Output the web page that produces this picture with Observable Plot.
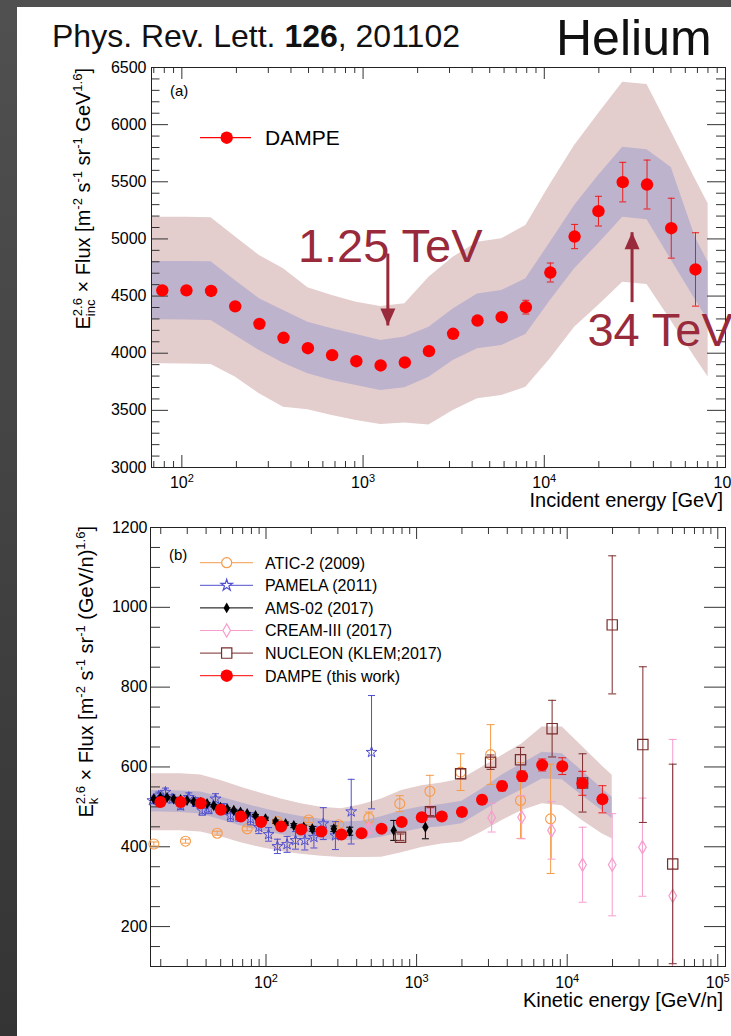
<!DOCTYPE html>
<html><head><meta charset="utf-8">
<script src="https://cdn.jsdelivr.net/npm/d3@7"></script>
<script src="https://cdn.jsdelivr.net/npm/@observablehq/plot@0.6"></script>
<style>
html,body{margin:0;padding:0;}
body{width:731px;height:1036px;overflow:hidden;background:linear-gradient(to bottom,#505050,#343434);}
#page{position:relative;width:731px;height:1036px;}
#card{position:absolute;left:17px;top:7px;right:0;bottom:0;background:#fff;}
.abs{position:absolute;left:0;}
</style></head>
<body><div id="page"><div id="card"></div></div>
<script>
// ---------- DATA (panel a: incident energy) ----------
const topEnergy = [78,106,145,197,268,364,496,675,918,1250,1700,2310,3140,4280,5820,7910,10800,14700,19900,27100,36900,50200,68300];
const topFlux   = [4550,4550,4545,4410,4257,4135,4044,3983,3930,3893,3919,4018,4170,4286,4315,4403,4706,5021,5243,5497,5476,5094,4733];
const topErr    = [12,12,13,14,15,16,17,18,19,20,22,24,27,30,38,60,83,106,130,173,214,262,321];
const topBandEnergy = [68,78,106,145,197,268,364,496,675,918,1250,1700,2310,3140,4280,5820,7910,10800,14700,19900,27100,36900,50200,68300,80200];
const topPinkUp = [5190,5190,5190,5185,5020,4855,4739,4572,4505,4447,4409,4432,4665,4840,4972,5001,5118,5479,5818,6095,6372,6351,5937,5520,5308];
const topBlueUp = [4803,4803,4803,4800,4636,4476,4374,4272,4214,4164,4111,4141,4228,4387,4518,4549,4651,4972,5292,5555,5803,5780,5626,5010,4797];
const topBlueLo = [4292,4292,4290,4286,4155,4024,3913,3820,3761,3718,3674,3697,3790,3936,4039,4068,4164,4461,4739,4957,5190,5168,4816,4466,4286];
const topPinkLo = [3907,3907,3905,3901,3791,3645,3528,3505,3455,3411,3376,3390,3372,3499,3601,3630,3703,3951,4228,4418,4622,4601,4281,3955,3791];
const annotText = ["1.25 TeV","34 TeV"];
const annotTextE = [437,17290];
const annotTextV = [4794,4059];
const arrowE = [1370,30500];
const arrowFrom = [4872,4447];
const arrowTo = [4243,5059];
const arrowRot = [180,0];
const topYTicks = [3000,3500,4000,4500,5000,5500,6000,6500];
const xDecades = [100,1000,10000,100000];

// ---------- DATA (panel b: kinetic energy per nucleon) ----------
const botEnergy = [19.9,27.1,36.9,50.1,68.2,92.7,126,171,233,317,431,585,796,1082,1470,2000,2718,3693,5020,6822,9272,12600,17130];
const botFlux   = [512,512,509,493,476,462,451,443,438,431,434,445,462,474,476,487,518,552,577,605,602,559,519];
const botErr    = [3,3,3,3,3,3,3,3,4,4,5,6,7,8,9,10,11,12,13,15,21,30,34];
const botBandEnergy = [17.1,19.9,27.1,36.9,50.1,68.2,92.7,126,171,233,317,431,585,796,1082,1470,2000,2718,3693,5020,6822,9272,12600,17130,19900];
const botPinkUp = [583,583,583,580,566,549,534,520,508,499,495,505,520,541,553,560,570,599,629,658,700,700,651,602,579];
const botBlueUp = [541,541,540,537,525,510,497,485,476,469,462,464,475,490,500,506,514,545,580,608,637,633,590,545,524];
const botBlueLo = [487,487,486,482,468,452,440,430,422,418,416,417,424,436,446,450,458,488,518,543,570,568,528,490,470];
const botPinkLo = [440,440,440,437,425,410,398,388,381,376,373,373,374,385,398,407,412,437,466,491,508,503,466,432,420];

const aticE   = [18.0,29.2,47.4,75.0,119,192,304,482,773,1225,1960,3100,4900,7760];
const aticF   = [407,414,434,445,463,467,455,472,508,539,587,631,516,470];
const aticErr = [5,5,5,5,5,6,8,15,20,40,46,75,95,137];

const pamE   = [17.6,19.4,21.5,23.8,27.1,30.7,34.0,37.7,41.7,46.2,52.5,58.1,66.0,78.9,89.6,104,119,138,157,181,208,240,289,368,502];
const pamF   = [516,528,537,520,503,524,512,491,495,520,495,478,478,470,449,431,401,406,416,416,424,458,428,488,637];
const pamErr = [8,9,10,10,10,11,11,12,12,13,13,14,14,15,16,17,18,20,22,24,27,40,35,81,142];

const amsE   = [18.0,19.9,22.0,24.4,27.1,29.9,33.1,36.7,40.6,45.0,49.8,55.2,61.1,67.7,75.0,85.2,99.2,116,135,153,178,203,282,360,705,1144];
const amsF   = [520,524,523,520,518,516,513,511,508,503,499,495,491,487,483,478,470,463,458,453,449,445,445,439,441,449];
const amsErr = [3,3,3,3,3,3,3,3,3,3,3,3,3,3,3,3,4,4,4,5,5,6,7,10,25,29];

const creamE   = [482,1236,3150,4980,7870,12650,19900,31600,50200];
const creamF   = [445,487,473,474,441,355,355,399,277];
const creamErr = [12,15,36,54,72,94,128,123,392];

const nucE   = [782,1236,1960,3100,4900,7940,12650,19900,31800,50200];
const nucF   = [424,488,583,612,618,696,560,956,656,357];
const nucErr = [8,10,12,18,31,71,73,173,195,250];

const legendNames = ["ATIC-2 (2009)","PAMELA (2011)","AMS-02 (2017)","CREAM-III (2017)","NUCLEON (KLEM;2017)","DAMPE (this work)"];
const botYTicks = [200,400,600,800,1000,1200];

// ---------- STYLE ----------
const FONT = "'Liberation Sans', Arial, Helvetica, sans-serif";
const PINK = "#e4cdcd", BLUE = "#bdb3cd", RED = "#ff0000", RED_ERR = "#ee1c1c";
const ORANGE = "#f59b4a", PURPLE = "#4f4fcf", BLACK = "#000000", CPINK = "#f79ccd", BROWN = "#7a2b2b";
const ANN = "#992a3b", TICK = "#333";

const sup = {2:"\u00b2",3:"\u00b3",4:"\u2074",5:"\u2075"};
const fmtPow = d => "10" + sup[Math.round(Math.log10(d))];

const capSym = {draw(ctx, size){ const w = Math.sqrt(size/Math.PI); ctx.moveTo(-w,0); ctx.lineTo(w,0); }};
const headSym = {draw(ctx){ ctx.moveTo(0,0); ctx.lineTo(-7.5,17); ctx.lineTo(7.5,17); ctx.closePath(); }};

const rows = (E, V, Er) => E.map((e,i)=>({e, v: V[i], err: Er[i]}));
const bandRows = (E, pu, bu, bl, pl) => E.map((e,i)=>({e, pu: pu[i], bu: bu[i], bl: bl[i], pl: pl[i]}));

function errMarks(data, color, cap){
  return [
    Plot.ruleX(data, {x:"e", y1:d=>d.v-d.err, y2:d=>d.v+d.err, stroke:color, strokeWidth:1, clip:true}),
    Plot.dot(data, {x:"e", y:d=>d.v+d.err, symbol:capSym, r:cap, stroke:color, fill:"none", strokeWidth:1, clip:true}),
    Plot.dot(data, {x:"e", y:d=>d.v-d.err, symbol:capSym, r:cap, stroke:color, fill:"none", strokeWidth:1, clip:true})
  ];
}
function minorLog(lo, hi){
  const out = [];
  for (let k = 0; k <= 5; k++) for (let m = 2; m <= 9; m++){ const v = m*Math.pow(10,k); if (v >= lo && v <= hi) out.push(v); }
  return out;
}
function tickMarks(xMaj, xMin, yMaj, yMin, FW, FH, L){
  return [
    Plot.tickX(xMaj, {x:d=>d, insetTop:FH-L.xM, stroke:TICK}),
    Plot.tickX(xMin, {x:d=>d, insetTop:FH-L.xm, stroke:TICK}),
    Plot.tickX(xMaj, {x:d=>d, insetBottom:FH-L.xM, stroke:TICK}),
    Plot.tickX(xMin, {x:d=>d, insetBottom:FH-L.xm, stroke:TICK}),
    Plot.tickY(yMaj, {y:d=>d, insetRight:FW-L.yM, stroke:TICK}),
    Plot.tickY(yMin, {y:d=>d, insetRight:FW-L.ym, stroke:TICK}),
    Plot.tickY(yMaj, {y:d=>d, insetLeft:FW-L.yRM, stroke:TICK}),
    Plot.tickY(yMin, {y:d=>d, insetLeft:FW-L.yRm, stroke:TICK})
  ];
}
// turn "10²" tick labels into 10 + raised tspan
function fixPowLabels(svg){
  const rev = {"\u00b2":"2","\u00b3":"3","\u2074":"4","\u2075":"5"};
  d3.select(svg).selectAll("text").filter(function(){ return /^10[\u00b2\u00b3\u2074\u2075]$/.test(this.textContent); })
    .each(function(){
      const p = rev[this.textContent[2]];
      const t = d3.select(this);
      t.text("10");
      t.append("tspan").attr("font-size", 11).attr("dy", -6).text(p);
    });
}

// ---------- PANEL (a) ----------
const topPts = rows(topEnergy, topFlux, topErr);
const topBand = bandRows(topBandEnergy, topPinkUp, topBlueUp, topBlueLo, topPinkLo);
const arrows = arrowE.map((e,i)=>({e, from: arrowFrom[i], to: arrowTo[i], rot: arrowRot[i]}));
const annots = annotText.map((t,i)=>({t, e: annotTextE[i], v: annotTextV[i]}));
const topYMinor = d3.range(3000, 6501, 100).filter(v => v % 500 !== 0);

const topSvg = Plot.plot({
  width: 731, height: 515, marginLeft: 151, marginRight: 6, marginTop: 67, marginBottom: 48,
  style: {background: "transparent", fontFamily: FONT, fontSize: "16px", color: "#000"},
  x: {type: "log", domain: [68, 1e5], ticks: xDecades, tickFormat: fmtPow, tickSize: 0, tickPadding: 9, label: null},
  y: {domain: [3000, 6500], ticks: topYTicks, tickFormat: d => String(d), tickSize: 0, tickPadding: 5, label: null},
  marks: [
    Plot.areaY(topBand, {x:"e", y1:"pl", y2:"pu", fill: PINK}),
    Plot.areaY(topBand, {x:"e", y1:"bl", y2:"bu", fill: BLUE}),
    ...tickMarks(xDecades, minorLog(68, 1e5), topYTicks, topYMinor, 574, 400, {xM:12, xm:6, yM:17, ym:8.5, yRM:18, yRm:9}),
    Plot.frame({stroke: "#222"}),
    ...errMarks(topPts, RED_ERR, 3.5),
    Plot.dot(topPts, {x:"e", y:"v", r:6.2, fill: RED}),
    Plot.link(arrows, {x1:"e", x2:"e", y1:"from", y2:"to", stroke: ANN, strokeWidth: 3}),
    Plot.dot(arrows, {x:"e", y:"to", symbol: headSym, r: 1, fill: ANN, stroke: "none", rotate: "rot"}),
    Plot.text(annots, {x:"e", y:"v", text:"t", textAnchor:"start", lineAnchor:"bottom", fontSize: 47, fill: ANN})
  ]
});
topSvg.classList.add("abs");
topSvg.style.top = "0px";
document.getElementById("page").appendChild(topSvg);
fixPowLabels(topSvg);

// ---------- PANEL (b) ----------
const botPts = rows(botEnergy, botFlux, botErr);
const botBand = bandRows(botBandEnergy, botPinkUp, botBlueUp, botBlueLo, botPinkLo);
const atic = rows(aticE, aticF, aticErr);
const pam = rows(pamE, pamF, pamErr);
const ams = rows(amsE, amsF, amsErr);
const cream = rows(creamE, creamF, creamErr);
const nuc = rows(nucE, nucF, nucErr);
const botYMinor = d3.range(100, 1201, 50).filter(v => v % 200 !== 0);

const botSvg = Plot.plot({
  width: 731, height: 521, marginLeft: 150, marginRight: 6, marginTop: 12, marginBottom: 70,
  style: {background: "transparent", fontFamily: FONT, fontSize: "16px", color: "#000"},
  x: {type: "log", domain: [17.1, 112500], ticks: xDecades, tickFormat: fmtPow, tickSize: 0, tickPadding: 10, label: null},
  y: {domain: [100, 1200], ticks: botYTicks, tickFormat: d => String(d), tickSize: 0, tickPadding: 3, label: null},
  marks: [
    Plot.areaY(botBand, {x:"e", y1:"pl", y2:"pu", fill: PINK}),
    Plot.areaY(botBand, {x:"e", y1:"bl", y2:"bu", fill: BLUE}),
    ...tickMarks(xDecades, minorLog(17.1, 112500), botYTicks, botYMinor, 575, 439, {xM:12, xm:7, yM:20, ym:10, yRM:21, yRm:11}),
    Plot.frame({stroke: "#222"}),
    ...errMarks(atic, ORANGE, 4),
    Plot.dot(atic, {x:"e", y:"v", r:5, stroke: ORANGE, fill:"none", strokeWidth:1.1}),
    ...errMarks(pam, PURPLE, 3.5),
    Plot.dot(pam, {x:"e", y:"v", r:3.4, symbol:"star", stroke: PURPLE, fill:"none", strokeWidth:1}),
    ...errMarks(ams, BLACK, 3.5),
    Plot.dot(ams, {x:"e", y:"v", r:3.4, symbol:"diamond", fill: BLACK, stroke:"none"}),
    ...errMarks(cream, CPINK, 4),
    Plot.dot(cream, {x:"e", y:"v", r:4, symbol:"diamond", stroke: CPINK, fill:"none", strokeWidth:1.2}),
    ...errMarks(nuc, BROWN, 4),
    Plot.dot(nuc, {x:"e", y:"v", r:5.8, symbol:"square", stroke: BROWN, fill:"none", strokeWidth:1.2}),
    ...errMarks(botPts, RED_ERR, 4),
    Plot.dot(botPts, {x:"e", y:"v", r:6, fill: RED})
  ]
});
botSvg.classList.add("abs");
botSvg.style.top = "515px";
document.getElementById("page").appendChild(botSvg);
fixPowLabels(botSvg);

// ---------- decorations: titles, legends, axis titles ----------
function yTitle(svg, x, y, subText, subW, tailUnit){
  const t = d3.select(svg).append("text")
    .attr("transform", `translate(${x},${y}) rotate(-90)`)
    .attr("text-anchor", "end").attr("font-size", 20).attr("font-family", FONT)
    .style("white-space", "pre").attr("fill", "#000");
  t.append("tspan").text("E");
  t.append("tspan").attr("font-size", 13).attr("dy", -8).text("2.6");
  t.append("tspan").attr("font-size", 13).attr("dx", -18.1).attr("dy", 13).text(subText);
  t.append("tspan").attr("dx", 18.1 - subW).attr("dy", -5).text(" \u00d7 Flux [m");
  t.append("tspan").attr("font-size", 13).attr("dy", -8).text("-2");
  t.append("tspan").attr("dy", 8).text(" s");
  t.append("tspan").attr("font-size", 13).attr("dy", -8).text("-1");
  t.append("tspan").attr("dy", 8).text(" sr");
  t.append("tspan").attr("font-size", 13).attr("dy", -8).text("-1");
  t.append("tspan").attr("dy", 8).text(tailUnit);
  t.append("tspan").attr("font-size", 13).attr("dy", -8).text("1.6");
  t.append("tspan").attr("dy", 8).text("]");
}
yTitle(topSvg, 90, 68, "inc", 16.6, " GeV");
yTitle(botSvg, 93, 11, "k", 6.5, " (GeV/n)");

const gT = d3.select(topSvg).append("g").attr("font-family", FONT).attr("fill", "#000").attr("text-anchor", "start");
gT.append("text").attr("x", 723).attr("y", 507).attr("text-anchor", "end").attr("font-size", 20).text("Incident energy [GeV]");
gT.append("text").attr("x", 170).attr("y", 96).attr("font-size", 15).text("(a)");
gT.append("line").attr("x1", 200).attr("x2", 251).attr("y1", 137.7).attr("y2", 137.7).attr("stroke", RED).attr("stroke-width", 1.2);
gT.append("circle").attr("cx", 226.7).attr("cy", 137.7).attr("r", 6.2).attr("fill", RED);
gT.append("text").attr("x", 265).attr("y", 145).attr("font-size", 21).text("DAMPE");

const gB = d3.select(botSvg).append("g").attr("font-family", FONT).attr("fill", "#000").attr("text-anchor", "start");
gB.append("text").attr("x", 723).attr("y", 492).attr("text-anchor", "end").attr("font-size", 20).text("Kinetic energy [GeV/n]");
gB.append("text").attr("x", 169).attr("y", 45).attr("font-size", 15).text("(b)");
const legStyle = [
  {c: ORANGE, s: d3.symbolCircle, r: 5, fill: false},
  {c: PURPLE, s: d3.symbolStar, r: 3.6, fill: false},
  {c: BLACK, s: d3.symbolDiamond, r: 3.3, fill: true},
  {c: CPINK, s: d3.symbolDiamond, r: 4, fill: false},
  {c: BROWN, s: d3.symbolSquare, r: 5.8, fill: false},
  {c: RED, s: d3.symbolCircle, r: 6.2, fill: true}
];
legendNames.forEach((name, i) => {
  const cy = 47.7 + i*22.6, st = legStyle[i];
  gB.append("line").attr("x1", 200).attr("x2", 253).attr("y1", cy).attr("y2", cy).attr("stroke", st.c).attr("stroke-width", 1);
  gB.append("path").attr("transform", `translate(226.7,${cy})`)
    .attr("d", d3.symbol().type(st.s).size(Math.PI*st.r*st.r)())
    .attr("fill", st.fill ? st.c : "#fff").attr("stroke", st.fill ? "none" : st.c).attr("stroke-width", 1.2);
  gB.append("text").attr("x", 265).attr("y", cy + 5.8).attr("font-size", 16).text(name);
});

// header
const hdr = d3.select("#page").append("svg").attr("class", "abs").style("top", "0px")
  .attr("width", 731).attr("height", 72).attr("font-family", FONT);
const h1 = hdr.append("text").attr("x", 52).attr("y", 47).attr("font-size", 32).attr("fill", "#111").style("white-space", "pre");
h1.append("tspan").text("Phys. Rev. Lett. ");
h1.append("tspan").attr("font-weight", "bold").text("126");
h1.append("tspan").text(", 201102");
hdr.append("text").attr("x", 556).attr("y", 55).attr("font-size", 50).attr("fill", "#111").text("Helium");
</script>
</body></html>
